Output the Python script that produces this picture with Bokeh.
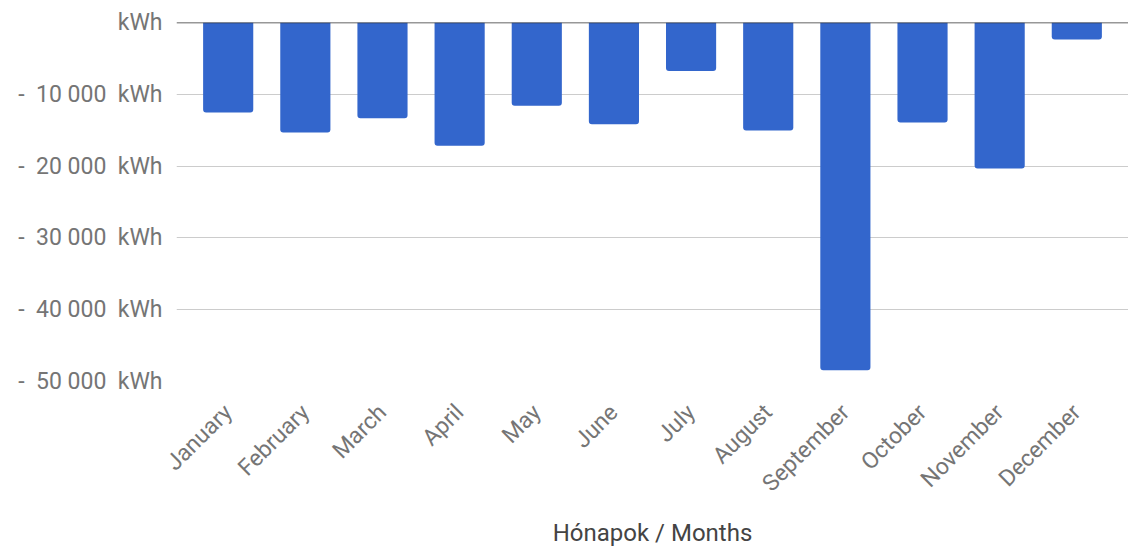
from bokeh.plotting import figure
from bokeh.models import ColumnDataSource, FactorRange, Range1d, FixedTicker, Span
from bokeh.embed import file_html
from bokeh.resources import INLINE
import math

months = ["January", "February", "March", "April", "May", "June", "July",
          "August", "September", "October", "November", "December"]
energy_kwh = [-12550, -15330, -13330, -17170, -11600, -14170, -6760,
              -15050, -48430, -13940, -20330, -2360]
y_ticks = [0, -10000, -20000, -30000, -40000, -50000]
y_tick_labels = ["kWh", "-\u00a0 10 000\u00a0 kWh", "-\u00a0 20 000\u00a0 kWh", "-\u00a0 30 000\u00a0 kWh",
                 "-\u00a0 40 000\u00a0 kWh", "-\u00a0 50 000\u00a0 kWh"]
x_title = "Hónapok / Months"

source = ColumnDataSource(data=dict(month=months, value=energy_kwh))

p = figure(width=1128, height=550, output_backend="svg", toolbar_location=None,
           x_range=FactorRange(*months, range_padding=0.17, range_padding_units="absolute"),
           y_range=Range1d(y_ticks[-1], y_ticks[0]),
           min_border_left=176, min_border_right=0, min_border_top=22, min_border_bottom=167)

p.vbar(x="month", top=0, bottom="value", width=0.65, source=source,
       fill_color="#3366CC", line_color=None, border_radius=(0, 0, 3, 3))

p.outline_line_color = None
p.background_fill_color = "white"
p.border_fill_color = "white"

# y axis
p.yaxis.ticker = FixedTicker(ticks=y_ticks)
p.yaxis.major_label_overrides = {t: l for t, l in zip(y_ticks, y_tick_labels)}
p.yaxis.axis_line_color = None
p.yaxis.major_tick_line_color = None
p.yaxis.minor_tick_line_color = None
p.yaxis.major_label_text_font = "Roboto"
p.yaxis.major_label_text_font_size = "23px"
p.yaxis.major_label_text_color = "#757575"
p.yaxis.major_label_standoff = 8

p.ygrid.ticker = FixedTicker(ticks=y_ticks)
p.ygrid.grid_line_color = "#cccccc"
p.ygrid.grid_line_width = 1
p.xgrid.grid_line_color = None

zero = Span(location=0, dimension="width", line_color="#333333", line_width=1.5)
p.add_layout(zero)

# x axis
p.xaxis.axis_line_color = None
p.xaxis.major_tick_line_color = None
p.xaxis.minor_tick_line_color = None
p.xaxis.major_label_orientation = math.pi / 4
p.xaxis.major_label_text_font = "Roboto"
p.xaxis.major_label_text_font_size = "23px"
p.xaxis.major_label_text_color = "#757575"
p.xaxis.major_label_standoff = 21
p.xaxis.axis_label = x_title
p.xaxis.axis_label_text_font = "Roboto"
p.xaxis.axis_label_text_font_size = "24px"
p.xaxis.axis_label_text_font_style = "normal"
p.xaxis.axis_label_text_color = "#444444"
p.xaxis.axis_label_standoff = 10

open("out.html", "w").write(file_html(p, INLINE))
